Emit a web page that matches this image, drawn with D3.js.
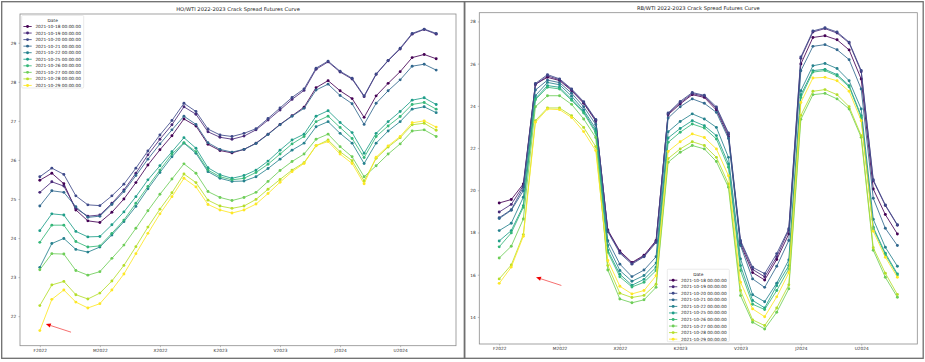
<!DOCTYPE html>
<html lang="en">
<head>
<meta charset="UTF-8" />
<title>Crack Spread Futures Curves</title>
<script src="https://d3js.org/d3.v7.min.js"></script>
<style>
  html, body { margin: 0; padding: 0; background: #fff; }
  svg { display: block; font-family: "DejaVu Sans", sans-serif; }
  .axis .domain { display: none; }
  .axis .tick line { stroke: #7a7a7a; stroke-width: 0.5; }
  .axis .tick text { fill: #2b2b2b; }
</style>
</head>
<body>
<svg width="925" height="362"></svg>
<script>
// legend entries (trade dates)
const dates = [
  "2021-10-18 00:00:00", "2021-10-19 00:00:00", "2021-10-20 00:00:00", "2021-10-21 00:00:00",
  "2021-10-22 00:00:00", "2021-10-25 00:00:00", "2021-10-26 00:00:00", "2021-10-27 00:00:00",
  "2021-10-28 00:00:00", "2021-10-29 00:00:00"
];

// futures contracts along the x axis
const contracts = [
  "F2022", "G2022", "H2022", "J2022", "K2022", "M2022", "N2022", "Q2022", "U2022", "V2022",
  "X2022", "Z2022", "G2023", "H2023", "J2023", "K2023", "M2023", "N2023", "Q2023", "U2023",
  "V2023", "X2023", "Z2023", "G2024", "H2024", "J2024", "K2024", "M2024", "N2024", "Q2024",
  "U2024", "V2024", "X2024", "Z2024"
];

const hoTicks = [22, 23, 24, 25, 26, 27, 28, 29];
const rbTicks = [14, 16, 18, 20, 22, 24, 26, 28];

// HO/WTI crack spread, one array per trade date
const ho1018 = [25.48, 25.66, 25.39, 24.72, 24.44, 24.40, 24.66, 25.00, 25.42, 25.87, 26.26, 26.62, 27.05, 26.87, 26.40, 26.24, 26.18, 26.27, 26.43, 26.66, 26.91, 27.13, 27.35, 27.85, 28.03, 27.77, 27.57, 27.09, 27.64, 27.96, 28.26, 28.62, 28.70, 28.59];
const ho1019 = [25.17, 25.44, 25.33, 24.76, 24.56, 24.59, 24.89, 25.23, 25.66, 26.13, 26.53, 26.90, 27.36, 27.17, 26.72, 26.58, 26.53, 26.61, 26.77, 27.02, 27.28, 27.55, 27.78, 28.32, 28.51, 28.25, 28.07, 27.62, 28.19, 28.54, 28.84, 29.22, 29.34, 29.22];
const ho1020 = [25.57, 25.79, 25.63, 25.08, 24.85, 24.83, 25.08, 25.38, 25.79, 26.23, 26.64, 27.01, 27.45, 27.24, 26.79, 26.64, 26.60, 26.68, 26.80, 27.06, 27.33, 27.60, 27.82, 28.35, 28.53, 28.27, 28.09, 27.64, 28.20, 28.55, 28.86, 29.24, 29.35, 29.24];
const ho1021 = [24.82, 25.21, 25.17, 24.80, 24.53, 24.56, 24.86, 25.19, 25.60, 26.02, 26.41, 26.77, 27.12, 26.91, 26.44, 26.27, 26.20, 26.27, 26.42, 26.65, 26.90, 27.12, 27.32, 27.79, 27.94, 27.65, 27.44, 26.91, 27.45, 27.77, 28.05, 28.40, 28.45, 28.30];
const ho1022 = [23.25, 23.86, 23.99, 23.71, 23.64, 23.77, 24.08, 24.42, 24.81, 25.26, 25.68, 26.08, 26.43, 26.17, 25.70, 25.53, 25.45, 25.46, 25.57, 25.78, 26.02, 26.25, 26.43, 26.85, 26.98, 26.68, 26.43, 25.91, 26.43, 26.74, 26.98, 27.30, 27.36, 27.21];
const ho1025 = [24.19, 24.62, 24.59, 24.17, 24.03, 24.04, 24.34, 24.67, 25.06, 25.49, 25.85, 26.21, 26.57, 26.30, 25.80, 25.62, 25.53, 25.60, 25.74, 25.97, 26.25, 26.51, 26.66, 27.12, 27.26, 26.96, 26.70, 26.17, 26.68, 26.98, 27.24, 27.53, 27.59, 27.42];
const ho1026 = [23.89, 24.33, 24.33, 23.91, 23.77, 23.80, 24.12, 24.46, 24.89, 25.32, 25.74, 26.15, 26.44, 26.21, 25.74, 25.57, 25.49, 25.53, 25.68, 25.89, 26.15, 26.41, 26.60, 26.98, 27.12, 26.83, 26.55, 26.06, 26.60, 26.87, 27.11, 27.42, 27.47, 27.30];
const ho1027 = [23.19, 23.60, 23.59, 23.17, 23.05, 23.14, 23.48, 23.82, 24.25, 24.70, 25.12, 25.51, 25.90, 25.66, 25.19, 25.04, 24.96, 25.04, 25.17, 25.45, 25.73, 25.96, 26.15, 26.53, 26.66, 26.34, 26.08, 25.57, 25.85, 26.15, 26.41, 26.74, 26.77, 26.60];
const ho1028 = [22.27, 22.80, 22.89, 22.55, 22.44, 22.59, 22.90, 23.30, 23.78, 24.28, 24.74, 25.16, 25.64, 25.42, 24.97, 24.82, 24.76, 24.82, 24.99, 25.25, 25.50, 25.74, 25.93, 26.36, 26.51, 26.21, 25.98, 25.46, 26.04, 26.33, 26.57, 26.90, 26.94, 26.76];
const ho1029 = [21.63, 22.43, 22.67, 22.36, 22.21, 22.32, 22.67, 23.08, 23.60, 24.12, 24.62, 25.06, 25.53, 25.31, 24.86, 24.72, 24.64, 24.72, 24.87, 25.14, 25.43, 25.70, 25.91, 26.37, 26.47, 26.15, 25.91, 25.39, 26.07, 26.36, 26.60, 26.95, 27.00, 26.84];

// RB/WTI crack spread, one array per trade date
const rb1018 = [19.40, 19.56, 20.30, 25.03, 25.35, 25.20, 24.72, 24.12, 23.28, 18.12, 17.12, 16.58, 16.92, 17.62, 23.58, 24.09, 24.53, 24.40, 23.80, 22.55, 17.45, 16.10, 15.75, 16.72, 17.93, 25.98, 27.24, 27.32, 27.13, 26.65, 25.27, 20.06, 18.85, 17.93];
const rb1019 = [18.97, 19.33, 20.22, 25.00, 25.42, 25.24, 24.76, 24.16, 23.32, 18.08, 17.08, 16.55, 16.88, 17.58, 23.63, 24.15, 24.58, 24.46, 23.88, 22.66, 17.55, 16.25, 15.90, 16.85, 18.12, 26.25, 27.50, 27.66, 27.45, 26.98, 25.62, 20.45, 19.28, 18.34];
const rb1020 = [18.70, 19.08, 20.14, 25.06, 25.48, 25.28, 24.80, 24.20, 23.36, 18.04, 17.02, 16.50, 16.85, 17.52, 23.66, 24.21, 24.63, 24.50, 23.95, 22.72, 17.62, 16.35, 16.05, 17.00, 18.18, 26.32, 27.55, 27.70, 27.50, 27.02, 25.68, 20.50, 19.31, 18.37];
const rb1021 = [18.66, 19.05, 19.98, 24.75, 25.22, 25.10, 24.60, 23.96, 23.12, 17.61, 16.50, 15.91, 16.22, 16.85, 23.42, 23.96, 24.33, 24.12, 23.69, 22.45, 17.38, 15.80, 15.40, 16.40, 17.62, 25.66, 26.82, 26.90, 26.66, 26.19, 24.80, 19.62, 18.20, 17.38];
const rb1022 = [18.09, 18.44, 19.67, 24.48, 25.11, 25.00, 24.46, 23.80, 22.92, 17.38, 16.20, 15.69, 15.96, 16.55, 22.77, 23.26, 23.62, 23.38, 22.98, 21.56, 16.75, 15.05, 14.72, 15.60, 16.70, 24.72, 25.90, 26.01, 25.77, 25.19, 23.85, 18.63, 17.30, 16.40];
const rb1025 = [17.60, 18.09, 19.27, 24.35, 24.96, 24.88, 24.32, 23.72, 22.80, 17.15, 16.02, 15.50, 15.78, 16.35, 22.48, 22.93, 23.30, 23.06, 22.59, 21.25, 16.43, 14.78, 14.43, 15.48, 16.43, 24.52, 25.67, 25.73, 25.48, 24.96, 23.53, 18.25, 17.02, 16.04];
const rb1026 = [17.32, 17.98, 19.19, 24.29, 24.88, 24.80, 24.26, 23.66, 22.72, 17.06, 15.90, 15.42, 15.64, 16.20, 22.27, 22.75, 23.14, 22.95, 22.43, 21.09, 16.20, 14.60, 14.35, 15.25, 16.27, 24.40, 25.60, 25.67, 25.42, 24.90, 23.45, 18.18, 16.95, 15.98];
const rb1027 = [16.79, 17.35, 18.64, 23.96, 24.48, 24.48, 24.07, 23.38, 22.50, 16.22, 14.85, 14.67, 14.81, 15.40, 21.33, 21.80, 22.12, 21.96, 21.36, 20.14, 15.01, 13.75, 13.43, 14.22, 15.33, 23.36, 24.53, 24.59, 24.33, 23.85, 22.51, 17.16, 15.88, 14.93];
const rb1028 = [15.80, 16.46, 17.90, 23.30, 23.90, 23.90, 23.53, 22.98, 22.07, 16.43, 15.12, 14.92, 15.02, 15.55, 21.50, 21.96, 22.30, 22.12, 21.56, 20.30, 15.25, 13.86, 13.59, 14.42, 15.52, 23.55, 24.69, 24.77, 24.53, 23.96, 22.59, 17.28, 16.07, 15.06];
const rb1029 = [15.59, 16.36, 17.82, 23.22, 23.85, 23.82, 23.45, 22.78, 21.88, 16.67, 15.45, 15.09, 15.25, 15.95, 21.84, 22.30, 22.67, 22.50, 21.96, 20.69, 15.64, 14.38, 14.01, 14.95, 16.09, 24.16, 25.32, 25.35, 25.19, 24.69, 23.30, 18.06, 16.83, 15.88];

const hoSeries = [ho1018, ho1019, ho1020, ho1021, ho1022, ho1025, ho1026, ho1027, ho1028, ho1029];
const rbSeries = [rb1018, rb1019, rb1020, rb1021, rb1022, rb1025, rb1026, rb1027, rb1028, rb1029];

const svg = d3.select("svg");
const color = (i) => d3.interpolateViridis(i / (dates.length - 1));

const panels = [
  {
    title: "HO/WTI 2022-2023 Crack Spread Futures Curve",
    series: hoSeries, yTicks: hoTicks,
    frame: {x: 1.7, y: 1.7, w: 462.6, h: 356.6},
    plot: {left: 20, right: 456, top: 14, bottom: 345.7},
    legend: "upper left",
    // red annotation arrow, in (contract index, value) units
    arrow: {from: [2.6, 21.59], to: [0.5, 21.8]}
  },
  {
    title: "RB/WTI 2022-2023 Crack Spread Futures Curve",
    series: rbSeries, yTicks: rbTicks,
    frame: {x: 464.8, y: 1.7, w: 458.4, h: 356.6},
    plot: {left: 479.3, right: 917.3, top: 12.7, bottom: 344},
    legend: "lower center",
    arrow: {from: [5.15, 15.49], to: [3.05, 15.88]}
  }
];

panels.forEach((p) => {
  const x = d3.scalePoint().domain(contracts).range([p.plot.left, p.plot.right]).padding(1.65);
  const [lo, hi] = d3.extent(p.series.flat());
  const pad = (hi - lo) * 0.05;
  const y = d3.scaleLinear().domain([lo - pad, hi + pad]).range([p.plot.bottom, p.plot.top]);
  const xAt = (k) => x(contracts[0]) + k * x.step();

  // outer figure border
  svg.append("rect")
    .attr("x", p.frame.x).attr("y", p.frame.y)
    .attr("width", p.frame.w).attr("height", p.frame.h)
    .attr("fill", "none").attr("stroke", "#6e6e6e").attr("stroke-width", 1.3);

  // title
  svg.append("text")
    .attr("x", (p.plot.left + p.plot.right) / 2)
    .attr("y", p.plot.top - 3)
    .attr("text-anchor", "middle")
    .attr("font-size", 5.2)
    .attr("fill", "#222")
    .text(p.title);

  // axes
  svg.append("g")
    .attr("class", "axis")
    .attr("transform", `translate(0,${p.plot.bottom})`)
    .call(d3.axisBottom(x).tickValues(contracts.filter((d, i) => i % 5 === 0)).tickSize(1.5).tickPadding(1.6))
    .attr("font-size", 4.3).attr("font-family", "DejaVu Sans, sans-serif");

  svg.append("g")
    .attr("class", "axis")
    .attr("transform", `translate(${p.plot.left},0)`)
    .call(d3.axisLeft(y).tickValues(p.yTicks).tickFormat(d3.format("d")).tickSize(1.5).tickPadding(2.2))
    .attr("font-size", 4.3).attr("font-family", "DejaVu Sans, sans-serif");

  // lines + markers
  const line = d3.line().x((d, i) => x(contracts[i])).y((d) => y(d));
  p.series.forEach((vals, si) => {
    svg.append("path")
      .datum(vals)
      .attr("fill", "none")
      .attr("stroke", color(si))
      .attr("stroke-width", 0.85)
      .attr("d", line);
    svg.append("g")
      .selectAll("circle")
      .data(vals)
      .join("circle")
      .attr("cx", (d, i) => x(contracts[i]))
      .attr("cy", (d) => y(d))
      .attr("r", 1.45)
      .attr("fill", color(si));
  });

  // axes frame (spines)
  svg.append("rect")
    .attr("x", p.plot.left).attr("y", p.plot.top)
    .attr("width", p.plot.right - p.plot.left).attr("height", p.plot.bottom - p.plot.top)
    .attr("fill", "none").attr("stroke", "#8c8c8c").attr("stroke-width", 0.8);

  // legend
  const lw = 62, lh = 72.5;
  const lx = p.legend === "upper left" ? p.plot.left + 1.7 : (p.plot.left + p.plot.right) / 2 - lw / 2;
  const ly = p.legend === "upper left" ? p.plot.top + 1.5 : p.plot.bottom - 2.3 - lh;
  const lg = svg.append("g").attr("transform", `translate(${lx},${ly})`);
  lg.append("rect")
    .attr("width", lw).attr("height", lh).attr("rx", 1)
    .attr("fill", "#fff").attr("fill-opacity", 0.8)
    .attr("stroke", "#d6d6d6").attr("stroke-width", 0.5);
  lg.append("text")
    .attr("x", lw / 2).attr("y", 5)
    .attr("text-anchor", "middle").attr("dominant-baseline", "central")
    .attr("font-size", 4.3).attr("fill", "#222")
    .text("Date");
  dates.forEach((d, i) => {
    const ey = 11 + i * 6.55;
    lg.append("line")
      .attr("x1", 1.7).attr("x2", 10).attr("y1", ey).attr("y2", ey)
      .attr("stroke", color(i)).attr("stroke-width", 0.85);
    lg.append("circle").attr("cx", 5.85).attr("cy", ey).attr("r", 1.45).attr("fill", color(i));
    lg.append("text")
      .attr("x", 13.7).attr("y", ey)
      .attr("dominant-baseline", "central")
      .attr("font-size", 4.3).attr("fill", "#222")
      .text(d);
  });

  // red arrow annotation
  const x1 = xAt(p.arrow.from[0]), y1 = y(p.arrow.from[1]);
  const x2 = xAt(p.arrow.to[0]), y2 = y(p.arrow.to[1]);
  const ang = Math.atan2(y2 - y1, x2 - x1);
  const hl = 5, hw = 2.2;
  const bx = x2 - hl * Math.cos(ang), by = y2 - hl * Math.sin(ang);
  svg.append("line")
    .attr("x1", x1).attr("y1", y1).attr("x2", bx).attr("y2", by)
    .attr("stroke", "#f03030").attr("stroke-width", 0.7);
  svg.append("path")
    .attr("d", `M${x2},${y2}L${bx + hw * Math.sin(ang)},${by - hw * Math.cos(ang)}L${bx - hw * Math.sin(ang)},${by + hw * Math.cos(ang)}Z`)
    .attr("fill", "#f00000");
});
</script>
</body>
</html>
